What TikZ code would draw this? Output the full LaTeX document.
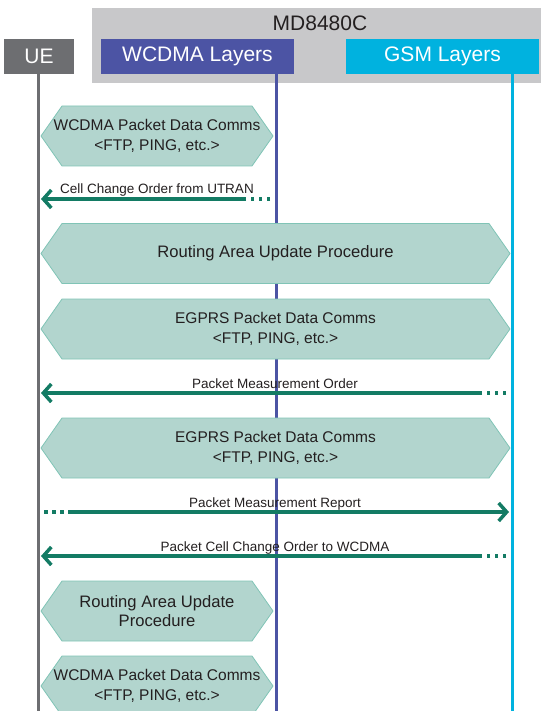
\documentclass[tikz,border=0pt]{standalone}
\usepackage{fontspec}
\setmainfont{Liberation Sans}
\usetikzlibrary{arrows.meta}

\definecolor{boxgray}{RGB}{200,200,202}
\definecolor{uegray}{RGB}{109,110,113}
\definecolor{wcdmablue}{RGB}{76,84,164}
\definecolor{gsmcyan}{RGB}{0,178,223}
\definecolor{hexfill}{RGB}{178,213,206}
\definecolor{hexline}{RGB}{128,196,182}
\definecolor{msggreen}{RGB}{19,123,100}
\definecolor{txt}{RGB}{35,31,32}

\begin{document}
\begin{tikzpicture}[x=1pt,y=-1pt,
    head/.style={inner sep=0pt,minimum height=35pt,text=white,
      font=\fontsize{21}{24}\selectfont},
    life/.style={line width=3pt},
    hexa/.style={fill=hexfill,draw=hexline,line width=0.8pt},
    hextext/.style={align=center,text=txt},
    msg/.style={draw=msggreen,line width=3.5pt,
      -{Straight Barb[length=8pt,width=18pt]}},
    msgdots/.style={draw=msggreen,line width=3.5pt,dash pattern=on 3.5pt off 4.5pt},
    msglabel/.style={anchor=base,inner sep=0pt,text=txt,
      font=\fontsize{13.5}{16}\selectfont}]

    \useasboundingbox (0,0) rectangle (541,711);

    % Simulator frame and headers
    \node[fill=boxgray,inner sep=0pt,minimum width=449pt,minimum height=75pt]
      (md) at (316.5,45.5) {};
    \node[text=txt,font=\fontsize{21}{24}\selectfont] (mdname) at (320,23) {MD8480C};
    \node[head,fill=uegray,minimum width=70pt] (ue) at (39,56.5) {UE};
    \node[head,fill=wcdmablue,minimum width=193pt] (wcdma) at (197.5,56.5) {WCDMA Layers};
    \node[head,fill=gsmcyan,minimum width=193pt] (gsm) at (442.5,56.5) {GSM Layers};

    % Lifelines
    \foreach \n/\x/\c in {ue/38/uegray,wcdma/276/wcdmablue,gsm/512/gsmcyan} {
      \coordinate (\n top) at (\x,74);
      \coordinate (\n bot) at (\x,711);
      \draw[life,\c] (\n top) -- (\n bot);
    }

    % Procedures (left / right / centre / font size / text)
    \foreach \i/\l/\r/\y/\s/\t in {
        1/41/273/136/15.5/{WCDMA Packet Data Comms\\<FTP, PING, etc.>},
        2/41/510/253.5/16.6/{Routing Area Update Procedure},
        3/41/510/329/15.5/{EGPRS Packet Data Comms\\<FTP, PING, etc.>},
        4/41/510/448/15.5/{EGPRS Packet Data Comms\\<FTP, PING, etc.>},
        5/41/273/611/16.6/{Routing Area Update\\Procedure},
        6/41/273/686/15.5/{WCDMA Packet Data Comms\\<FTP, PING, etc.>}} {
      \draw[hexa] (\l,\y) -- ({\l+21},{\y-30}) -- ({\r-21},{\y-30}) -- (\r,\y)
        -- ({\r-21},{\y+30}) -- ({\l+21},{\y+30}) -- cycle;
      \node[hextext,font=\fontsize{\s}{19.5}\selectfont] (proc\i)
        at ({(\l+\r)/2},\y) {\t};
    }

    % Messages (from / to / direction)
    \foreach \i/\a/\b/\d/\y/\t in {
        1/276/38/-1/199/Cell Change Order from UTRAN,
        2/512/38/-1/393/Packet Measurement Order,
        3/38/512/1/512/Packet Measurement Report,
        4/512/38/-1/556/Packet Cell Change Order to WCDMA} {
      \coordinate (m\i dotA) at ({\a+6*\d},\y);
      \coordinate (m\i dotB) at ({\a+25.5*\d},\y);
      \coordinate (m\i from) at ({\a+30*\d},\y);
      \coordinate (m\i to) at ({\b-3*\d},\y);
      \draw[msgdots] (m\i dotA) -- (m\i dotB);
      \draw[msg] (m\i from) -- (m\i to);
      \node[msglabel] (m\i label) at ({(\a+\b)/2},{\y-5}) {\t};
    }

  \end{tikzpicture}
\end{document}
